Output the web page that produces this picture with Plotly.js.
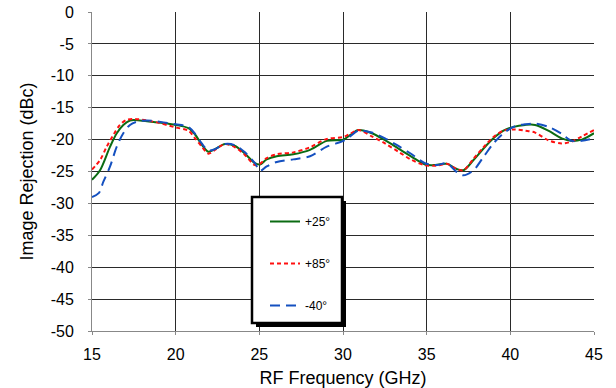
<!DOCTYPE html>
<html><head><meta charset="utf-8">
<script src="https://cdn.plot.ly/plotly-3.0.1.min.js"></script>
<style>html,body{margin:0;padding:0;background:#fff;}#chart{width:616px;height:388px;}</style>
</head><body><div id="chart"></div>
<script>
const freqGreen = [15,15.48,16.08,16.48,16.87,17.27,17.87,18.87,20.0,20.76,21.16,21.56,21.95,22.35,22.95,23.55,24.14,24.74,25.04,25.44,26.04,27.03,28.03,29.03,30.02,30.42,30.92,31.72,32.51,33.31,34.11,34.9,35.4,36.2,36.8,37.2,37.8,38.4,38.99,39.59,40.19,40.88,41.48,42.27,43.07,43.67,44.27,45];
const valGreen = [-26.3,-24.8,-21.1,-19.0,-17.7,-17.0,-17.0,-17.3,-17.7,-18.2,-19.2,-20.8,-21.9,-21.5,-20.7,-21.0,-22.2,-23.7,-23.9,-23.1,-22.6,-22.3,-21.6,-20.2,-20.0,-19.3,-18.5,-19.0,-20.1,-21.4,-22.7,-23.9,-24.0,-23.8,-24.6,-24.8,-23.2,-21.4,-19.8,-18.6,-18.0,-17.7,-17.7,-18.6,-19.8,-20.2,-20.0,-19.0];

const freqRed = [15,15.48,15.88,16.27,16.67,17.07,17.67,18.87,20.0,20.76,21.16,21.56,21.95,22.35,22.95,23.55,24.14,24.74,25.04,25.44,26.04,27.03,28.03,29.03,30.02,30.42,30.92,31.72,32.51,33.31,34.11,34.9,35.6,36.2,36.8,37.2,37.8,38.4,38.99,39.59,40.28,40.88,41.48,42.27,43.07,43.67,44.27,45];
const valRed = [-24.7,-23.2,-21.1,-19.3,-17.7,-16.9,-16.8,-17.3,-18.1,-18.6,-19.8,-21.1,-22.2,-21.6,-20.7,-21.2,-22.4,-24.0,-23.8,-22.9,-22.3,-22.0,-21.2,-19.9,-19.6,-19.1,-18.5,-19.5,-20.6,-21.9,-23.2,-24.0,-24.1,-23.8,-24.6,-24.8,-23.0,-21.2,-19.6,-18.6,-18.4,-18.6,-18.9,-20.1,-20.6,-20.3,-19.5,-18.5];

const freqBlue = [15,15.4,15.68,16.08,16.48,16.87,17.27,17.67,18.27,19.27,20.0,20.76,21.16,21.56,21.95,22.35,22.95,23.55,24.14,24.74,25.04,25.44,26.04,27.03,28.03,29.03,30.02,30.42,30.92,31.72,32.51,33.31,34.11,34.9,35.6,36.2,36.8,37.2,37.8,38.4,38.99,39.59,40.28,40.88,41.48,42.27,43.07,43.67,44.27,45];
const valBlue = [-29.0,-28.4,-26.6,-24.2,-21.1,-19.0,-17.7,-17.2,-17.0,-17.3,-17.6,-18.0,-19.1,-20.6,-21.7,-21.5,-20.7,-20.9,-22.0,-23.7,-24.9,-24.2,-23.5,-23.1,-22.6,-21.1,-20.2,-19.5,-18.6,-18.9,-19.8,-21.0,-22.3,-23.7,-24.0,-23.7,-25.1,-25.6,-24.8,-22.7,-20.6,-19.0,-17.9,-17.6,-17.5,-18.0,-19.1,-20.2,-20.2,-19.8];

const seriesNames = ['+25°','+85°','-40°'];
const xTicks = [15,20,25,30,35,40,45];
const yTicks = [0,-5,-10,-15,-20,-25,-30,-35,-40,-45,-50];

const traces = [
  {x:freqGreen,y:valGreen,name:seriesNames[0],legendgroup:'a',mode:'lines',line:{color:'#0b6b12',width:2,shape:'spline',smoothing:0.9}},
  {x:freqRed,y:valRed,name:seriesNames[1],legendgroup:'b',mode:'lines',line:{color:'#ff1010',width:2,dash:'4px,3px',shape:'spline',smoothing:0.9}},
  {x:freqBlue,y:valBlue,name:seriesNames[2],legendgroup:'c',mode:'lines',line:{color:'#1450c0',width:2,dash:'10px,6px',shape:'spline',smoothing:0.9}}
];

function px2x(p){return (p-92)/502;}
function py2y(p){return (331-p)/319;}

const layout = {
  width:616,height:388,
  margin:{l:92,r:22,t:12,b:57},
  paper_bgcolor:'#fff',plot_bgcolor:'#fff',
  font:{family:'Liberation Sans, Arial, sans-serif',color:'#000'},
  showlegend:true,
  legend:{x:px2x(265),y:py2y(207),xanchor:'left',yanchor:'top',bgcolor:'rgba(0,0,0,0)',borderwidth:0,
          traceorder:'grouped',tracegroupgap:23,font:{size:12,color:'#000'}},
  xaxis:{range:[15,45],tickvals:xTicks,ticktext:xTicks.map(String),showgrid:true,gridcolor:'#2a2a2a',gridwidth:1,
         zeroline:false,showline:true,linecolor:'#888',linewidth:1,ticks:'outside',ticklen:3,tickcolor:'#888',
         ticklabelstandoff:6,
         tickfont:{size:16},title:{text:'RF Frequency (GHz)',font:{size:18},standoff:10}},
  yaxis:{range:[-50,0],tickvals:yTicks,ticktext:yTicks.map(String),showgrid:true,gridcolor:'#2a2a2a',gridwidth:1,
         zeroline:false,showline:true,linecolor:'#888',linewidth:1,ticks:'outside',ticklen:3,tickcolor:'#888',
         ticklabelstandoff:11,
         tickfont:{size:16},title:{text:'Image Rejection (dBc)',font:{size:18},standoff:12}},
  shapes:[
    {type:'rect',xref:'paper',yref:'paper',x0:px2x(256),x1:px2x(346),y0:py2y(327),y1:py2y(201),fillcolor:'#000',line:{width:0},layer:'above'},
    {type:'rect',xref:'paper',yref:'paper',x0:px2x(252),x1:px2x(342),y0:py2y(323),y1:py2y(197),fillcolor:'#fff',line:{color:'#000',width:2.5},layer:'above'}
  ]
};
Plotly.newPlot('chart',traces,layout,{displayModeBar:false,staticPlot:true});
</script></body></html>
